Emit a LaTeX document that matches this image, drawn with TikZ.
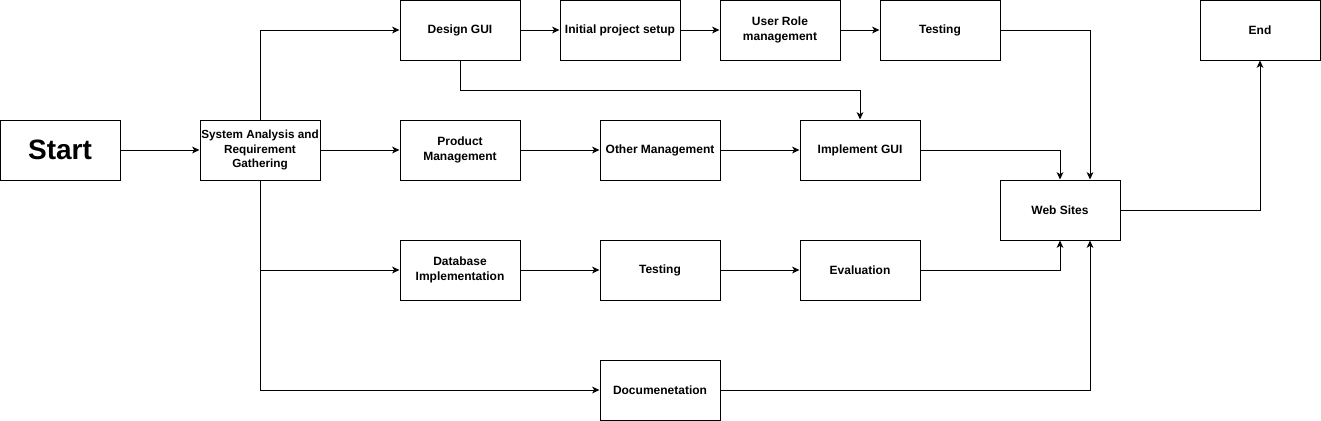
\documentclass[tikz,border=0pt]{standalone}
\usepackage{fontspec}
\setmainfont{Liberation Sans}
\usetikzlibrary{arrows.meta}

\begin{document}
\begin{tikzpicture}[
    x=0.75pt, y=-0.75pt,
    box/.style={rectangle, draw=black, fill=white, line width=0.75pt, minimum width=90pt, minimum height=45pt, inner xsep=0pt, inner ysep=1pt, align=center, font=\bfseries\fontsize{9}{11}\selectfont},
    bigbox/.style={box, font=\bfseries\fontsize{21}{24}\selectfont},
    arrow/.style={-{Stealth[length=5.5pt, width=5pt, inset=1.5pt]}, line width=0.75pt}
]
\useasboundingbox (0,0) rectangle (1321,421);

% start and analysis
\node[bigbox] (start) at (60,150) {Start};
\node[box, font=\bfseries\fontsize{8.8}{11}\selectfont] (analysis) at (260,150) {System Analysis and\\Requirement\\Gathering};

% top row
\node[box] (designgui) at (460,30) {Design GUI};
\node[box] (setup) at (620,30) {Initial project setup};
\node[box] (userrole) at (780,30) {User Role\\management};
\node[box] (testing) at (940,30) {Testing};
\node[box] (end) at (1260,30) {End};

% middle row
\node[box] (product) at (460,150) {Product\\Management};
\node[box] (other) at (660,150) {Other Management};
\node[box] (implgui) at (860,150) {Implement GUI};
\node[box] (websites) at (1060,210) {Web Sites};

% lower rows
\node[box] (database) at (460,270) {Database\\Implementation};
\node[box] (testingb) at (660,270) {Testing};
\node[box] (evaluation) at (860,270) {Evaluation};
\node[box] (docs) at (660,390) {Documenetation};

% connectors
\draw[arrow] (start) -- (analysis);
\draw[arrow] (analysis.north) |- (designgui.west);
\draw[arrow] (analysis) -- (product);
\draw[arrow] (analysis.south) |- (database.west);
\draw[arrow] (analysis.south) |- (docs.west);

\draw[arrow] (designgui) -- (setup);
\draw[arrow] (setup) -- (userrole);
\draw[arrow] (userrole) -- (testing);
\draw[arrow] (designgui.south) -- ++(0,30) -| (implgui.north);
\draw[arrow] (testing.east) -| ([xshift=22.5pt]websites.north);

\draw[arrow] (product) -- (other);
\draw[arrow] (other) -- (implgui);
\draw[arrow] (implgui.east) -| (websites.north);

\draw[arrow] (database) -- (testingb);
\draw[arrow] (testingb) -- (evaluation);
\draw[arrow] (evaluation.east) -| (websites.south);
\draw[arrow] (docs.east) -| ([xshift=22.5pt]websites.south);

\draw[arrow] (websites.east) -| (end.south);

\end{tikzpicture}
\end{document}
